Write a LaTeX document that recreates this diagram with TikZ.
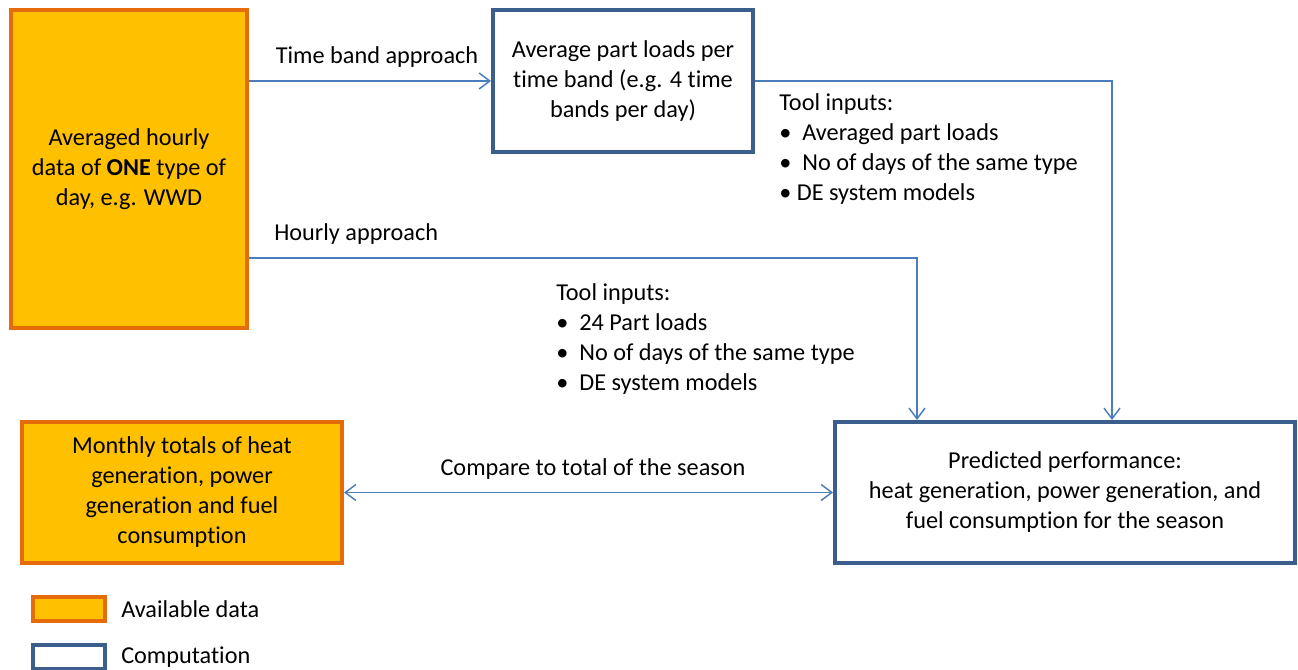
\documentclass[tikz,border=0pt]{standalone}
\usepackage{fontspec}
\setmainfont{Carlito}[Ligatures={NoCommon}]
\usetikzlibrary{arrows.meta,calc}
\definecolor{datafill}{HTML}{FFC000}
\definecolor{dataline}{HTML}{E46C0A}
\definecolor{compline}{HTML}{3B5E8C}
\definecolor{conncol}{HTML}{4A7EBB}
\begin{document}
\begin{tikzpicture}[x=0.75pt,y=-0.75pt,
  every node/.style={font=\fontsize{18.2}{22.5}\selectfont},
  databox/.style={draw=dataline,fill=datafill,line width=3pt,align=center,inner sep=0pt},
  compbox/.style={draw=compline,fill=white,line width=3pt,align=center,inner sep=0pt},
  conn/.style={draw=conncol,line width=1.1pt},
  tip/.style={-{Straight Barb[length=8pt,width=12pt]}},
  dtip/.style={{Straight Barb[length=8pt,width=12pt]}-{Straight Barb[length=8pt,width=12pt]}},
  lbl/.style={inner sep=0pt}
]
\useasboundingbox (0,0) rectangle (1298,670);
\node[databox,minimum width=177pt,minimum height=238.5pt] (A) at (129,169)
  {Averaged hourly\\data of \textbf{ONE} type of\\day, e.g. WWD};
\node[compbox,minimum width=195pt,minimum height=106.5pt] (B) at (623,81)
  {Average part loads per\\time band (e.g. 4 time\\bands per day)};
\node[compbox,minimum width=345pt,minimum height=105.75pt] (C) at (1065,492.5)
  {Predicted performance:\\heat generation, power generation, and\\fuel consumption for the season};
\node[databox,minimum width=240pt,minimum height=105.75pt] (D) at (182,492.5)
  {Monthly totals of heat\\generation, power\\generation and fuel\\consumption};
\coordinate (hx) at (917,258);
\coordinate (bx) at (1112,81);
\draw[conn,tip] (A.east |- B.west) -- (B.west);
\draw[conn,tip] (A.east |- hx) -| (C.north -| hx);
\draw[conn,tip] (B.east) -| (C.north -| bx);
\draw[conn,dtip] (D.east) -- (C.west);
\node[lbl] (l1) at (377,57) {Time band approach};
\node[lbl,anchor=west] (l2) at (274,234) {Hourly approach};
\node[lbl] (l3) at (593,469) {Compare to total of the season};
\node[lbl,anchor=west,align=left] (t1) at (779,149)
  {Tool inputs:\\\textbullet\ \ Averaged part loads\\\textbullet\ \ No of days of the same type\\\textbullet\ DE system models};
\node[lbl,anchor=west,align=left] (t2) at (556,339)
  {Tool inputs:\\\textbullet\ \ 24 Part loads\\\textbullet\ \ No of days of the same type\\\textbullet\ \ DE system models};
\node[databox,minimum width=54pt,minimum height=18pt,line width=2.5pt] (g1) at (69,609) {};
\node[compbox,minimum width=54pt,minimum height=18pt,line width=2.5pt] (g2) at (69,657) {};
\node[lbl,anchor=west] (g1t) at (121,609) {Available data};
\node[lbl,anchor=west] (g2t) at (121,657) {Computation};
\end{tikzpicture}
\end{document}
